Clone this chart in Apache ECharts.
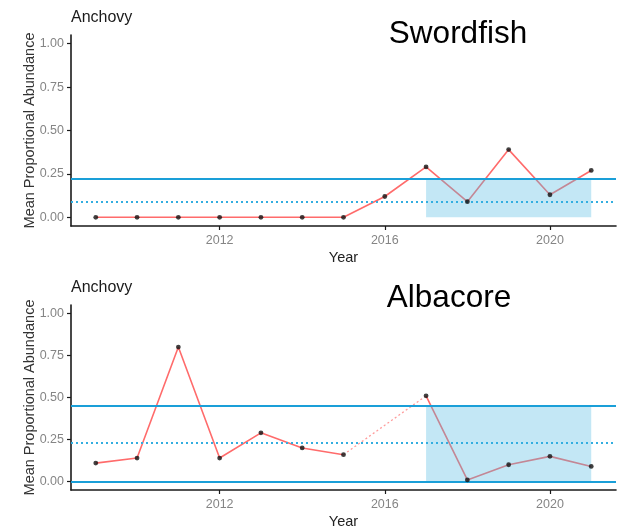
<!DOCTYPE html>
<html>
<head>
<meta charset="utf-8">
<script src="https://cdn.jsdelivr.net/npm/echarts@6/dist/echarts.min.js"></script>
<style>
  html, body { margin: 0; padding: 0; background: #fff; }
  #chart { width: 617px; height: 530px; }
</style>
</head>
<body>
<div id="chart"></div>
<script>
// Survey years shared by both panels
const years = [2009, 2010, 2011, 2012, 2013, 2014, 2015, 2016, 2017, 2018, 2019, 2020, 2021];

// Mean proportional abundance of anchovy in the diet (null = no sample that year)
const swordfishAnchovy = [0, 0, 0, 0, 0, 0, 0, 0.12, 0.29, 0.09, 0.39, 0.13, 0.27];
const albacoreAnchovy  = [0.11, 0.14, 0.80, 0.14, 0.29, 0.20, 0.16, null, 0.51, 0.01, 0.10, 0.15, 0.09];

// Reference levels: solid bounds and dotted long-term mean
const swordfishBounds = [0.22];
const swordfishMean = [0.09];
const albacoreBounds = [0.0, 0.45];
const albacoreMean = [0.23];

// Highlighted recent period
const recentPeriod = [2017, 2021];

// Axis ticks
const yearTicks = [2012, 2016, 2020];
const abundanceTicks = [0, 0.25, 0.5, 0.75, 1];

const FONT = "'Liberation Sans', Arial, sans-serif";
const RED = '#ff6b6b';
const BLUE = '#1a9fd8';
const AXIS = '#1a1a1a';

const panels = [
  { title: 'Swordfish', values: swordfishAnchovy, bounds: swordfishBounds, mean: swordfishMean },
  { title: 'Albacore', values: albacoreAnchovy, bounds: albacoreBounds, mean: albacoreMean }
];

const grids = [
  { left: 71, top: 35, width: 545, height: 191 },
  { left: 71, top: 305, width: 545, height: 189 }
];

const xAxes = grids.map((g, i) => ({
  type: 'value', gridIndex: i, min: 2008.4, max: 2021.6,
  axisLine: { show: true, onZero: false, lineStyle: { color: AXIS, width: 1.6 } },
  axisTick: { show: true, customValues: yearTicks, length: 4, lineStyle: { color: AXIS, width: 1.2 } },
  axisLabel: { customValues: yearTicks, color: '#858585', fontSize: 12.5, fontFamily: FONT, margin: 8,
               formatter: v => String(Math.round(v)) },
  splitLine: { show: false },
  name: 'Year', nameLocation: 'middle', nameGap: 24, nameMoveOverlap: false,
  nameTextStyle: { color: '#222', fontSize: 14.5, fontFamily: FONT }
}));

const yAxes = grids.map((g, i) => ({
  type: 'value', gridIndex: i, min: -0.05, max: 1.05,
  axisLine: { show: true, onZero: false, lineStyle: { color: AXIS, width: 1.6 } },
  axisTick: { show: true, customValues: abundanceTicks, length: 4, lineStyle: { color: AXIS, width: 1.2 } },
  axisLabel: { customValues: abundanceTicks, color: '#858585', fontSize: 12.5, fontFamily: FONT, margin: 7,
               formatter: v => Number(v).toFixed(2) },
  splitLine: { show: false },
  name: 'Mean Proportional Abundance', nameLocation: 'middle', nameGap: 34, nameRotate: 90,
  nameMoveOverlap: false,
  nameTextStyle: { color: '#333', fontSize: 14.5, fontFamily: FONT }
}));

const series = [];
panels.forEach((p, i) => {
  const pts = years.map((y, k) => [y, p.values[k]]);

  // Main trend line, broken where a year is missing
  series.push({
    type: 'line', xAxisIndex: i, yAxisIndex: i, data: pts, connectNulls: false,
    showSymbol: false, lineStyle: { color: RED, width: 1.6 }, z: 2, silent: true
  });

  // Dotted bridge across missing years
  const bridges = [];
  for (let k = 0; k < years.length; k++) {
    if (p.values[k] === null) {
      let a = k - 1, b = k + 1;
      while (a >= 0 && p.values[a] === null) a--;
      while (b < years.length && p.values[b] === null) b++;
      if (a >= 0 && b < years.length) {
        bridges.push([years[a], p.values[a]], [years[b], p.values[b]], [null, null]);
      }
    }
  }
  if (bridges.length) {
    series.push({
      type: 'line', xAxisIndex: i, yAxisIndex: i, data: bridges, connectNulls: false,
      showSymbol: false, lineStyle: { color: '#ff9c9c', width: 1.3, type: [2, 2.5] }, z: 2, silent: true
    });
  }

  // Translucent band over the recent period, laid over the trend line
  const upper = Math.max(...p.bounds);
  series.push({
    type: 'line', xAxisIndex: i, yAxisIndex: i, z: 3, silent: true,
    data: recentPeriod.map(y => [y, upper]), showSymbol: false,
    lineStyle: { width: 0, opacity: 0 },
    areaStyle: { origin: 0, color: 'rgba(84,188,226,0.5)' }
  });

  // Reference lines: solid bounds and dotted mean
  const lines = p.bounds.map(v => ({ yAxis: v, lineStyle: { color: BLUE, width: 2.2, type: 'solid' } }))
    .concat(p.mean.map(v => ({ yAxis: v, lineStyle: { color: '#33aee0', width: 2, type: [2, 3] } })));
  series.push({
    type: 'line', xAxisIndex: i, yAxisIndex: i, data: [], z: 4, silent: true,
    markLine: {
      silent: true, symbol: ['none', 'none'], label: { show: false },
      data: lines
    }
  });

  // Yearly points
  series.push({
    type: 'scatter', xAxisIndex: i, yAxisIndex: i,
    data: pts.filter(d => d[1] !== null), symbolSize: 4.8,
    itemStyle: { color: '#111' }, z: 5, silent: true
  });
});

const graphic = [];
const titleY = [19, 289];
const nameY = [34, 298];
const nameX = [458, 449];
panels.forEach((p, i) => {
  graphic.push({
    type: 'text', left: 71, top: titleY[i] - 9,
    style: { text: 'Anchovy', fontSize: 16, fontFamily: FONT, fill: '#1a1a1a' }
  });
  graphic.push({
    type: 'text', x: nameX[i], y: nameY[i],
    style: { text: p.title, fontSize: 31.5, fontFamily: FONT, fill: '#000', align: 'center', verticalAlign: 'middle' }
  });
});

const chart = echarts.init(document.getElementById('chart'), null, { renderer: 'canvas' });
chart.setOption({
  animation: false,
  backgroundColor: '#fff',
  grid: grids,
  xAxis: xAxes,
  yAxis: yAxes,
  series: series,
  graphic: graphic
});
</script>
</body>
</html>
